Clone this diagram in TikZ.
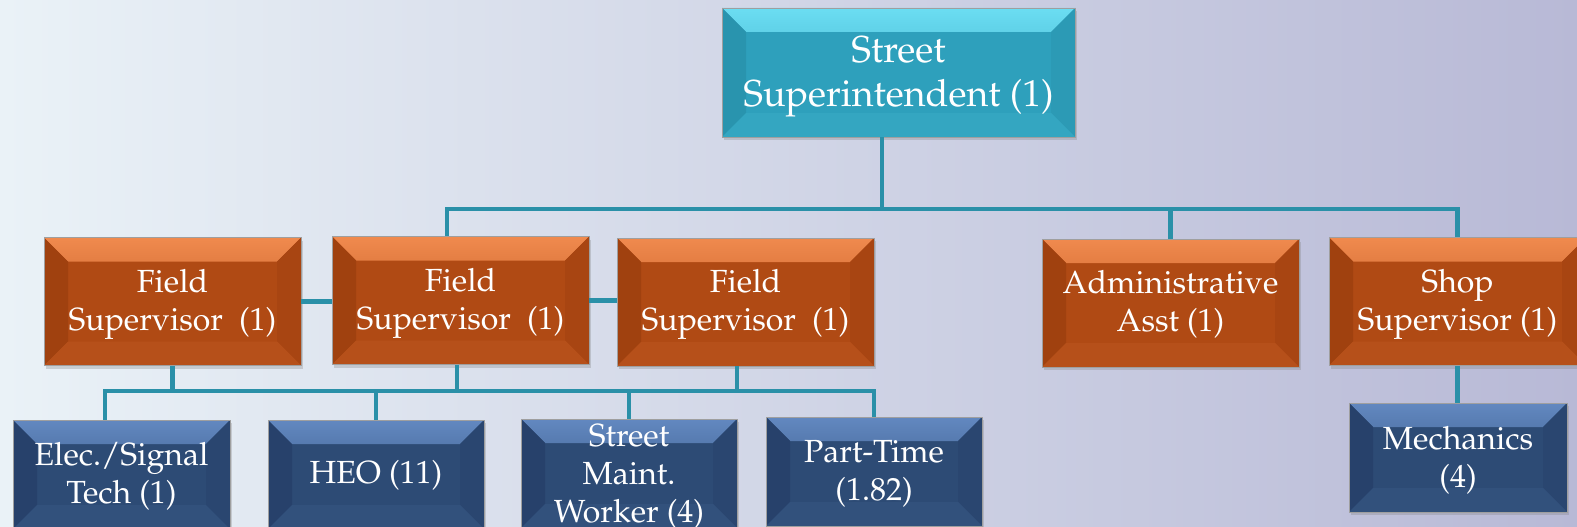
\documentclass[tikz,border=0pt]{standalone}
\usepackage[T1]{fontenc}
\usepackage{mathpazo}
\usetikzlibrary{shadows}
\definecolor{bgL}{HTML}{EAF2F7}
\definecolor{bgM}{HTML}{E0E2EC}
\definecolor{bgR}{HTML}{B8B9D6}
\definecolor{conn}{HTML}{2A90A8}
\definecolor{tealB}{HTML}{2EA0BC}
\definecolor{tealL}{HTML}{6BDDF2}
\definecolor{tealD}{HTML}{2891AB}
\definecolor{orB}{HTML}{B04A14}
\definecolor{orL}{HTML}{F08A4E}
\definecolor{orD}{HTML}{9C3E0E}
\definecolor{blB}{HTML}{2D4B75}
\definecolor{blL}{HTML}{6288C0}
\definecolor{blD}{HTML}{253F69}
\newcommand{\lines}[1]{\begin{tabular}[t]{@{}c@{}}#1\end{tabular}}
\tikzset{
  bevbox/.style n args={3}{rectangle, fill=#1, draw=gray!75, line width=0.8pt,
    inner sep=0pt,
    drop shadow={shadow xshift=2pt, shadow yshift=-3pt, opacity=0.3},
    path picture={
      \shade[top color=#2, bottom color=#1]
        (path picture bounding box.north west) -- (path picture bounding box.north east)
        -- ([xshift=-24pt,yshift=-24pt]path picture bounding box.north east)
        -- ([xshift=24pt,yshift=-24pt]path picture bounding box.north west) -- cycle;
      \fill[#3!80!#1]
        (path picture bounding box.north west) -- ([xshift=24pt,yshift=-24pt]path picture bounding box.north west)
        -- ([xshift=24pt,yshift=24pt]path picture bounding box.south west)
        -- (path picture bounding box.south west) -- cycle;
      \fill[#3!40!#1]
        (path picture bounding box.north east) -- ([xshift=-24pt,yshift=-24pt]path picture bounding box.north east)
        -- ([xshift=-24pt,yshift=24pt]path picture bounding box.south east)
        -- (path picture bounding box.south east) -- cycle;
      \fill[#1!90!#2]
        (path picture bounding box.south west) -- ([xshift=24pt,yshift=24pt]path picture bounding box.south west)
        -- ([xshift=-24pt,yshift=24pt]path picture bounding box.south east)
        -- (path picture bounding box.south east) -- cycle;
    }},
  topbox/.style={bevbox={tealB}{tealL}{tealD}},
  orbox/.style={bevbox={orB}{orL}{orD}, minimum width=257pt, minimum height=128pt},
  blbox/.style={bevbox={blB}{blL}{blD}, minimum width=216pt, minimum height=109pt},
  toptext/.style={text=white, anchor=base, inner sep=0pt, font=\fontsize{37.5}{44}\selectfont},
  ortext/.style={text=white, anchor=base, inner sep=0pt, font=\fontsize{32}{38}\selectfont},
  bltext/.style={text=white, anchor=base, inner sep=0pt, font=\fontsize{32}{38}\selectfont},
  link/.style={draw=conn, line width=4.2pt},
}
\begin{document}
\begin{tikzpicture}[x=1pt,y=-1pt]
\useasboundingbox (0,0) rectangle (1577,527);
\shade[left color=bgL, middle color=bgM, right color=bgR] (0,0) rectangle (1577,527);

% boxes
\node[topbox, minimum width=353pt, minimum height=129pt] (top) at (898.5,72.5) {};
\node[orbox] (fs1) at (172.5,301.5) {};
\node[orbox] (fs2) at (460.5,300.5) {};
\node[orbox] (fs3) at (745.5,302) {};
\node[orbox] (adm) at (1170.5,303) {};
\node[orbox] (shop) at (1457.5,301.5) {};
\node[blbox, minimum width=217pt] (elec) at (121.5,474.5) {};
\node[blbox] (heo) at (376,474.5) {};
\node[blbox] (smw) at (629,473.5) {};
\node[blbox] (pt) at (874,471.5) {};
\node[blbox, minimum width=218pt] (mech) at (1458,457.5) {};

% texts
\node[toptext] (topT) at (898.5,63) {\lines{Street\\Superintendent (1)}};
\node[ortext] (fs1T) at (172.5,292.5) {\lines{Field\\Supervisor\ \ (1)}};
\node[ortext] (fs2T) at (460.5,291) {\lines{Field\\Supervisor\ \ (1)}};
\node[ortext] (fs3T) at (745.5,292) {\lines{Field\\Supervisor\ \ (1)}};
\node[ortext] (admT) at (1170.5,293) {\lines{Administrative\\Asst (1)}};
\node[ortext] (shopT) at (1457.5,292) {\lines{Shop\\Supervisor (1)}};
\node[bltext] (elecT) at (121.5,465) {\lines{Elec./Signal\\Tech (1)}};
\node[bltext] (heoT) at (376,483) {\lines{HEO (11)}};
\node[bltext] (smwT) at (629,446) {\lines{Street\\Maint.\\Worker (4)}};
\node[bltext] (ptT) at (874,462) {\lines{Part-Time\\(1.82)}};
\node[bltext] (mechT) at (1458,449) {\lines{Mechanics\\(4)}};

% connectors
\coordinate (b0) at (882,209);
\coordinate (bL) at (447,209);
\coordinate (lA) at (105,391);
\coordinate (l2) at (457,391);
\coordinate (l3) at (737,391);

\draw[link] (top.south -| b0) -- (b0);
\draw[link] (fs2.north -| bL) -- (bL) -- (bL -| shop.north) -- (shop.north);
\draw[link] (adm.north) -- (adm.north |- bL);
\draw[link] (fs1.east) -- (fs1.east -| fs2.west);
\draw[link] (fs2.east) -- (fs2.east -| fs3.west);
\draw[link] (fs1.south) -- (fs1.south |- lA);
\draw[link] (fs2.south -| l2) -- (l2);
\draw[link] (fs3.south -| l3) -- (l3);
\draw[link] (elec.north -| lA) -- (lA) -- (lA -| pt.north) -- (pt.north);
\draw[link] (heo.north) -- (heo.north |- lA);
\draw[link] (smw.north) -- (smw.north |- lA);
\draw[link] (shop.south) -- (shop.south |- mech.north);
\end{tikzpicture}
\end{document}
